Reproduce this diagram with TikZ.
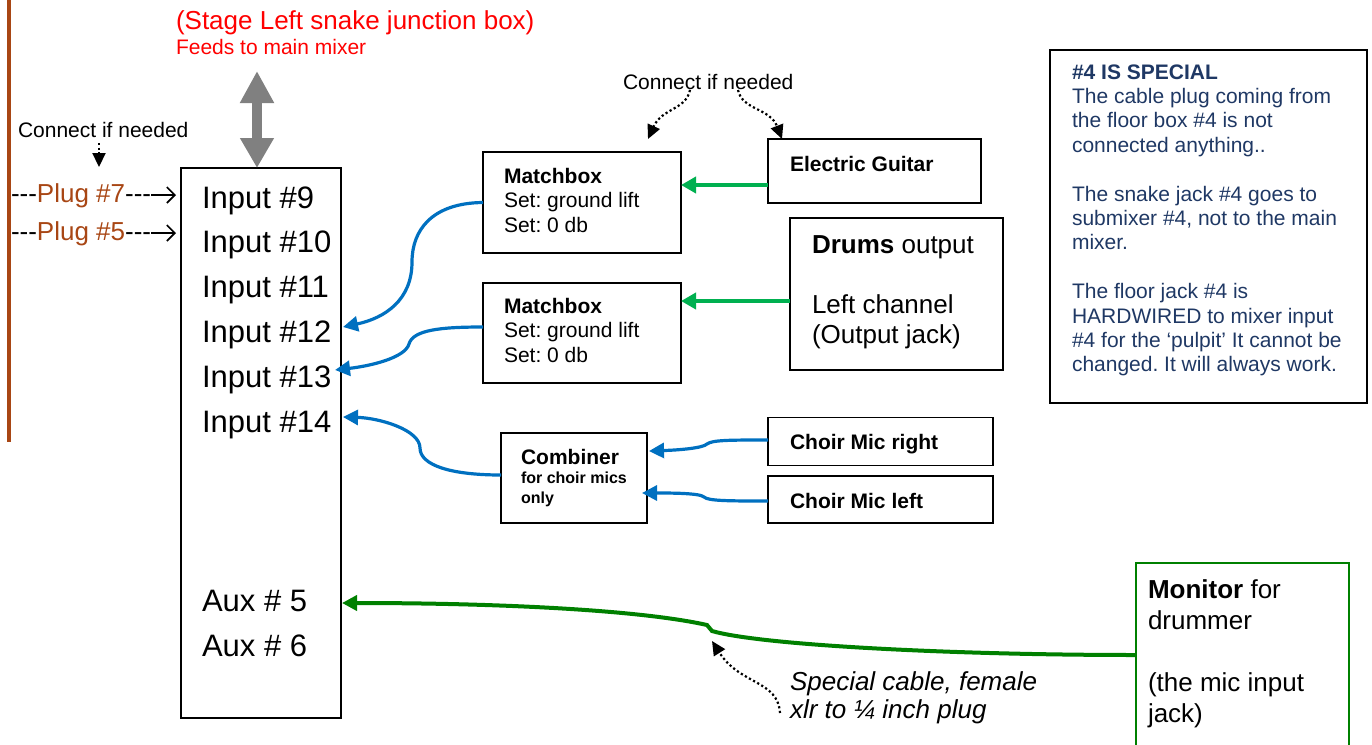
\documentclass[tikz,border=0pt]{standalone}
\usepackage{fontspec}
\setmainfont{Liberation Sans}
\usetikzlibrary{arrows.meta,calc}
\definecolor{brownc}{RGB}{168,70,20}
\definecolor{redc}{RGB}{255,0,0}
\definecolor{greenc}{RGB}{0,176,80}
\definecolor{dgreen}{RGB}{0,128,0}
\definecolor{bluec}{RGB}{0,112,192}
\definecolor{navyc}{RGB}{31,56,100}
\definecolor{grayc}{RGB}{128,128,128}
\frenchspacing
\newcommand{\mltext}[4]{\parbox[t]{#1pt}{\fontsize{#2pt}{#3pt}\selectfont\raggedright #4}}
\begin{document}
\begin{tikzpicture}[x=1pt,y=-1pt,
  box/.style={draw=black, line width=1.5pt, rectangle, inner sep=0pt, outer sep=0pt},
  lbl/.style={inner sep=0pt, outer sep=0pt, anchor=base west},
  bluearr/.style={draw=bluec, line width=3.2pt, -{Triangle[length=15pt,width=15pt]}},
  greenarr/.style={draw=greenc, line width=4.5pt, -{Triangle[length=15pt,width=16pt]}},
  monarr/.style={draw=dgreen, line width=4pt, -{Triangle[length=15pt,width=15pt]}},
  dotarr/.style={draw=black, line width=2.2pt, dash pattern=on 2.2pt off 2.5pt, -{Triangle[length=14pt,width=13pt]}},
  plugarr/.style={draw=black, line width=1.6pt, -{Straight Barb[length=8pt,width=16pt]}},
  grayarr/.style={draw=grayc, line width=10pt, {Triangle[length=32pt,width=32pt]}-{Triangle[length=30pt,width=32pt]}}
]
\useasboundingbox (0,0) rectangle (1372,744);
\clip (0,0) rectangle (1372,744);

% brown line
\draw[draw=brownc, line width=3.5pt] (9,0) -- (9,442);

% titles
\node[lbl, text=redc] (title) at (176,29) {\fontsize{26pt}{30pt}\selectfont (Stage Left snake junction box)};
\node[lbl, text=redc] (feeds) at (176,54) {\fontsize{21pt}{24pt}\selectfont Feeds to main mixer};

% main box
\node[box, minimum width=160pt, minimum height=550pt] (main) at (261,443) {};
\node[lbl] (inputs) at (202,208) {\mltext{200}{31}{44.8}{Input \#9\\Input \#10\\Input \#11\\Input \#12\\Input \#13\\Input \#14\\\mbox{}\\\mbox{}\\\mbox{}\\Aux \# 5\\Aux \# 6}};

% gray double arrow
\coordinate (gtop) at (257,71);
\draw[grayarr] (gtop) -- (gtop |- main.north);

% left connect
\node[lbl] (cin1) at (18,137) {\fontsize{21pt}{24pt}\selectfont Connect if needed};
\coordinate (d1s) at (99,143);
\coordinate (d1e) at (99,167);
\draw[dotarr] (d1s) -- (d1e);

% plugs
\node[lbl] (plug7) at (11,202) {\fontsize{26pt}{30pt}\selectfont -{}-{}-\textcolor{brownc}{Plug \#7}-{}-{}-};
\node[lbl] (plug5) at (11,240) {\fontsize{26pt}{30pt}\selectfont -{}-{}-\textcolor{brownc}{Plug \#5}-{}-{}-};
\coordinate (p7s) at ($(plug7.base east)+(0,-7)$);
\coordinate (p5s) at ($(plug5.base east)+(0,-7)$);
\draw[plugarr, shorten >=5pt] (p7s) -- (p7s -| main.west);
\draw[plugarr, shorten >=5pt] (p5s) -- (p5s -| main.west);

% matchboxes
\node[box, minimum width=198pt, minimum height=101pt] (mb1) at (582,202.5) {};
\node[lbl] (mb1t) at (504,183) {\mltext{170}{21}{24.5}{\textbf{Matchbox}\\Set: ground lift\\Set: 0 db}};
\node[box, minimum width=198pt, minimum height=100pt] (mb2) at (582,333) {};
\node[lbl] (mb2t) at (504,313) {\mltext{170}{21}{24.5}{\textbf{Matchbox}\\Set: ground lift\\Set: 0 db}};

% guitar and drums
\node[box, minimum width=213pt, minimum height=64pt] (eg) at (874.5,171) {};
\node[lbl] (egt) at (790,171) {\fontsize{21pt}{24pt}\selectfont\textbf{Electric Guitar}};
\node[box, minimum width=213pt, minimum height=152pt] (dr) at (896.5,294) {};
\node[lbl] (drt) at (812,253) {\mltext{190}{26}{30}{\textbf{Drums} output\\\mbox{}\\Left channel\\(Output jack)}};

% upper connect if needed
\node[lbl] (cin2) at (623,89) {\fontsize{21pt}{24pt}\selectfont Connect if needed};
\coordinate (d2s) at (690,90);
\coordinate (d2e) at (648,139);
\coordinate (d3s) at (738,90);
\coordinate (d3e) at (782,139);
\draw[dotarr] (d2s) .. controls (686,110) and (662,108) .. (d2e);
\draw[dotarr] (d3s) .. controls (742,110) and (770,108) .. (d3e);

% green arrows
\coordinate (egs) at ($(eg.west)+(0,14)$);
\coordinate (drs) at ($(dr.west)+(0,7)$);
\draw[greenarr] (egs) -- (egs -| mb1.east);
\draw[greenarr] (drs) -- (drs -| mb2.east);

% combiner & choir mics
\node[box, minimum width=146pt, minimum height=90pt] (comb) at (574,478) {};
\node[lbl] (combt) at (521,464) {\mltext{120}{21}{19.5}{\textbf{Combiner}\\\fontsize{16pt}{19.5pt}\selectfont\textbf{for choir mics}\\\textbf{only}}};
\node[box, minimum width=225pt, minimum height=48pt] (cmr) at (880.5,441.5) {};
\node[lbl] (cmrt) at (790,449) {\fontsize{21pt}{24pt}\selectfont\textbf{Choir Mic right}};
\node[box, minimum width=225pt, minimum height=47pt] (cml) at (880.5,499.5) {};
\node[lbl] (cmlt) at (790,508) {\fontsize{21pt}{24pt}\selectfont\textbf{Choir Mic left}};

% blue connectors
\draw[bluearr] (mb1.west) .. controls (432,203) and (412,230) .. (412,262) .. controls (412,300) and (385,318) .. (343,327);
\draw[bluearr] ($(mb2.west)+(0,-6)$) .. controls (440,327) and (413,330) .. (409,344) .. controls (405,358) and (370,366) .. (335,370);
\draw[bluearr] ($(comb.west)+(0,-3)$) .. controls (450,475) and (420,465) .. (420,448) .. controls (420,430) and (380,418) .. (343,417);
\draw[bluearr] ($(cmr.west)+(0,-1.5)$) .. controls (730,440) and (712,440) .. (707,444) .. controls (703,448) and (680,450) .. (649,451);
\draw[bluearr] ($(cml.west)+(0,1.5)$) .. controls (730,501) and (708,501) .. (704,497) .. controls (700,493) and (670,493) .. (642,493);

% note box
\node[box, minimum width=317pt, minimum height=353pt] (note) at (1208.5,226.5) {};
\node[lbl, text=navyc] (notet) at (1072,79) {\mltext{300}{21}{24.4}{\textbf{\#4 IS SPECIAL}\\The cable plug coming from\\the floor box \#4 is not\\connected anything..\\\mbox{}\\The snake jack \#4 goes to\\submixer \#4, not to the main\\mixer.\\\mbox{}\\The floor jack \#4 is\\HARDWIRED to mixer input\\\#4 for the ‘pulpit’ It cannot be\\changed. It will always work.}};

% monitor
\node[box, draw=dgreen, minimum width=213pt, minimum height=207pt] (mon) at (1242.5,666.5) {};
\node[lbl] (mont) at (1148,598) {\mltext{195}{26}{31}{\textbf{Monitor} for\\drummer\\\mbox{}\\(the mic input\\jack)}};
\coordinate (mons) at ($(mon.north west)+(0,92)$);
\draw[monarr] (mons) .. controls (950,655) and (760,645) .. (712,631) -- (707,625) .. controls (640,610) and (500,603) .. (342,603);

% special cable
\node[lbl] (spc) at (790,690) {\mltext{300}{26}{28}{\itshape Special cable, female\\xlr to ¼ inch plug}};
\coordinate (d4s) at (780,713);
\coordinate (d4e) at (712,641);
\draw[dotarr] (d4s) .. controls (778,680) and (740,685) .. (d4e);
\end{tikzpicture}
\end{document}
